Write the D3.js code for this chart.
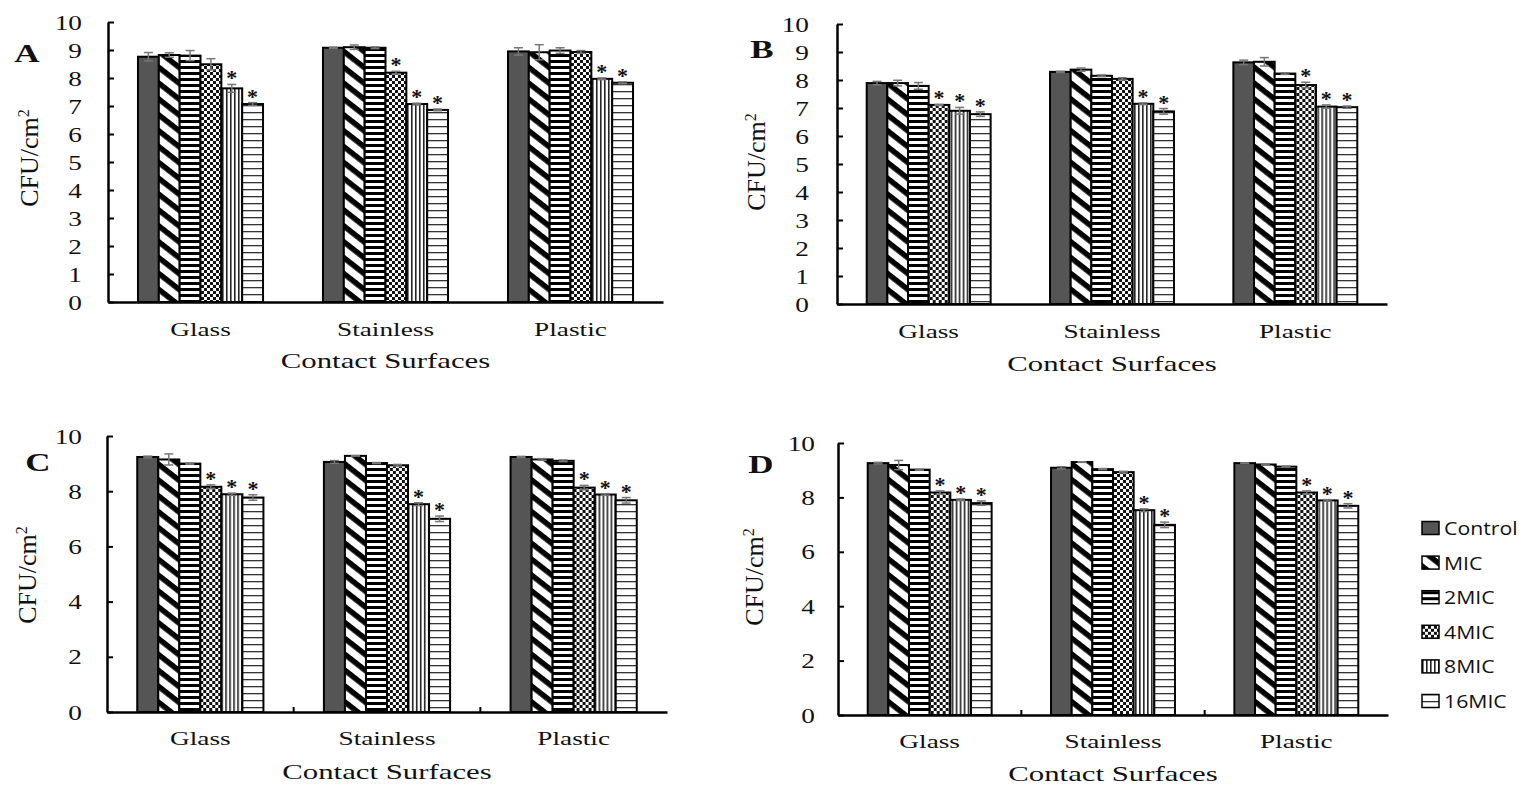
<!DOCTYPE html>
<html>
<head>
<meta charset="utf-8">
<script src="https://cdn.jsdelivr.net/npm/d3@7"></script>
<style>
  body { margin: 0; background: #fff; }
  svg text { font-family: "Liberation Serif", "Times New Roman", serif; fill: #111; }
</style>
</head>
<body>
<svg id="chart" width="1523" height="785"></svg>
<script>
const surfaces = ["Glass", "Stainless", "Plastic"];
const treatments = ["Control", "MIC", "2MIC", "4MIC", "8MIC", "16MIC"];

const ticksAB = [0, 1, 2, 3, 4, 5, 6, 7, 8, 9, 10];
const ticksCD = [0, 2, 4, 6, 8, 10];

// one row per surface, one value per treatment
const valuesA = [
    [8.76, 8.82, 8.80, 8.49, 7.63, 7.07],
    [9.08, 9.10, 9.08, 8.19, 7.07, 6.86],
    [8.95, 8.92, 8.98, 8.93, 7.97, 7.83]
];
const errorsA = [
    [0.15, 0.08, 0.18, 0.20, 0.14, 0.05],
    [0.02, 0.08, 0.03, 0.05, 0.03, 0.03],
    [0.13, 0.27, 0.10, 0.05, 0.03, 0.03]
];
const starsA = [[0, 0, 0, 0, 1, 1], [0, 0, 0, 1, 1, 1], [0, 0, 0, 0, 1, 1]];

const valuesB = [
    [7.89, 7.89, 7.79, 7.11, 6.90, 6.78],
    [8.29, 8.37, 8.15, 8.04, 7.15, 6.88],
    [8.63, 8.65, 8.23, 7.82, 7.05, 7.03]
];
const errorsB = [
    [0.06, 0.10, 0.12, 0.02, 0.12, 0.08],
    [0.02, 0.06, 0.03, 0.04, 0.03, 0.10],
    [0.08, 0.15, 0.03, 0.10, 0.06, 0.04]
];
const starsB = [[0, 0, 0, 1, 1, 1], [0, 0, 0, 0, 1, 1], [0, 0, 0, 1, 1, 1]];

const valuesC = [
    [9.24, 9.15, 9.00, 8.16, 7.89, 7.77],
    [9.06, 9.28, 9.02, 8.94, 7.53, 7.00],
    [9.24, 9.15, 9.10, 8.13, 7.88, 7.67]
];
const errorsC = [
    [0.03, 0.20, 0.02, 0.07, 0.04, 0.10],
    [0.05, 0.01, 0.02, 0.03, 0.05, 0.10],
    [0.02, 0.03, 0.03, 0.08, 0.03, 0.10]
];
const starsC = [[0, 0, 0, 1, 1, 1], [0, 0, 0, 0, 1, 1], [0, 0, 0, 1, 1, 1]];

const valuesD = [
    [9.26, 9.19, 9.02, 8.18, 7.91, 7.79],
    [9.09, 9.30, 9.04, 8.93, 7.53, 6.99],
    [9.26, 9.21, 9.13, 8.18, 7.89, 7.69]
];
const errorsD = [
    [0.03, 0.17, 0.02, 0.06, 0.03, 0.08],
    [0.04, 0.01, 0.02, 0.03, 0.05, 0.10],
    [0.01, 0.02, 0.02, 0.06, 0.03, 0.08]
];
const starsD = [[0, 0, 0, 1, 1, 1], [0, 0, 0, 0, 1, 1], [0, 0, 0, 1, 1, 1]];

const SX = 1.4; // the figure is stretched sideways

const svg = d3.select("#chart");
const defs = svg.append("defs");

// fill patterns
function addPattern(id, w, h, draw, rot) {
    const p = defs.append("pattern")
        .attr("id", id)
        .attr("patternUnits", "userSpaceOnUse")
        .attr("width", w)
        .attr("height", h);
    if (rot) p.attr("patternTransform", `rotate(${rot})`);
    p.append("rect").attr("width", w).attr("height", h).attr("fill", "#fff");
    draw(p);
}
addPattern("p-mic", 10, 12.5, p => p.append("rect").attr("width", 10).attr("height", 5.5).attr("fill", "#000"), 38);
addPattern("p-2mic", 6, 6, p => p.append("rect").attr("width", 6).attr("height", 3).attr("fill", "#000"));
addPattern("p-4mic", 6, 6, p => {
    p.append("rect").attr("width", 3).attr("height", 3).attr("fill", "#111");
    p.append("rect").attr("x", 3).attr("y", 3).attr("width", 3).attr("height", 3).attr("fill", "#111");
});
addPattern("p-8mic", 4, 4, p => p.append("rect").attr("width", 1.6).attr("height", 4).attr("fill", "#222"));
addPattern("p-16mic", 7, 7, p => p.append("rect").attr("y", 0).attr("width", 7).attr("height", 1.3).attr("fill", "#333"));

const fills = ["#555555", "url(#p-mic)", "url(#p-2mic)", "url(#p-4mic)", "url(#p-8mic)", "url(#p-16mic)"];

const panels = [
    { label: "A", values: valuesA, errors: errorsA, stars: starsA, ticks: ticksAB,
      left: 108, top: 22, bottom: 302, width: 555, gap: 26, xTicks: false,
      labelX: 27, labelY: 62, unitX: 38, unitY: 158, catY: 336, titleY: 368 },
    { label: "B", values: valuesB, errors: errorsB, stars: starsB, ticks: ticksAB,
      left: 837, top: 24, bottom: 304, width: 550, gap: 28, xTicks: false,
      labelX: 762, labelY: 58, unitX: 765, unitY: 162, catY: 338, titleY: 371 },
    { label: "C", values: valuesC, errors: errorsC, stars: starsC, ticks: ticksCD,
      left: 107, top: 436, bottom: 712, width: 560, gap: 25, xTicks: true,
      labelX: 38, labelY: 471, unitX: 36, unitY: 575, catY: 745, titleY: 779 },
    { label: "D", values: valuesD, errors: errorsD, stars: starsD, ticks: ticksCD,
      left: 838, top: 443, bottom: 715, width: 550, gap: 23, xTicks: true,
      labelX: 761, labelY: 473, unitX: 763, unitY: 577, catY: 748, titleY: 781 }
];

panels.forEach(cfg => {
    const g = svg.append("g");

    const yScale = d3.scaleLinear().domain([0, 10]).range([cfg.bottom, cfg.top]);
    const xScale = d3.scaleBand().domain(surfaces)
        .range([cfg.left, cfg.left + cfg.width])
        .paddingInner(0.324).paddingOuter(0.162);
    const xInner = d3.scaleBand().domain(treatments).range([0, xScale.bandwidth()]);

    // bars
    const groups = g.selectAll(".grp")
        .data(cfg.values)
        .enter()
        .append("g")
        .attr("transform", (d, i) => `translate(${xScale(surfaces[i])},0)`);

    groups.each(function (row, gi) {
        const grp = d3.select(this);
        const items = row.map((v, j) => ({ v, e: cfg.errors[gi][j], s: cfg.stars[gi][j], t: treatments[j], j }));

        grp.selectAll("rect")
            .data(items)
            .enter()
            .append("rect")
            .attr("x", d => xInner(d.t))
            .attr("y", d => yScale(d.v))
            .attr("width", xInner.bandwidth())
            .attr("height", d => cfg.bottom - yScale(d.v))
            .attr("fill", d => fills[d.j])
            .attr("stroke", "#000")
            .attr("stroke-width", 2);

        // error bars
        const eb = grp.selectAll(".err")
            .data(items)
            .enter()
            .append("g")
            .attr("stroke", "#777")
            .attr("stroke-width", 1.5);
        eb.append("line")
            .attr("x1", d => xInner(d.t) + xInner.bandwidth() / 2)
            .attr("x2", d => xInner(d.t) + xInner.bandwidth() / 2)
            .attr("y1", d => yScale(d.v - d.e))
            .attr("y2", d => yScale(d.v + d.e));
        eb.append("line")
            .attr("x1", d => xInner(d.t) + xInner.bandwidth() / 2 - 4.5)
            .attr("x2", d => xInner(d.t) + xInner.bandwidth() / 2 + 4.5)
            .attr("y1", d => yScale(d.v + d.e))
            .attr("y2", d => yScale(d.v + d.e));
        eb.append("line")
            .attr("x1", d => xInner(d.t) + xInner.bandwidth() / 2 - 4.5)
            .attr("x2", d => xInner(d.t) + xInner.bandwidth() / 2 + 4.5)
            .attr("y1", d => yScale(d.v - d.e))
            .attr("y2", d => yScale(d.v - d.e));

        // significance marks
        grp.selectAll(".star")
            .data(items.filter(d => d.s))
            .enter()
            .append("text")
            .attr("x", d => xInner(d.t) + xInner.bandwidth() / 2)
            .attr("y", d => yScale(d.v + d.e) + 1)
            .attr("text-anchor", "middle")
            .style("font-size", "22px")
            .style("font-weight", "bold")
            .text("*");
    });

    // y axis, ticks pointing inward
    const yAxis = g.append("g")
        .attr("transform", `translate(${cfg.left},0)`)
        .call(d3.axisLeft(yScale).tickValues(cfg.ticks).tickSizeInner(-6).tickSizeOuter(0).tickPadding(cfg.gap));
    yAxis.select(".domain").attr("stroke", "#000").attr("stroke-width", 2.5);
    yAxis.selectAll(".tick line").attr("stroke", "#000").attr("stroke-width", 2);
    yAxis.selectAll(".tick text")
        .attr("x", 0)
        .attr("dy", "0.34em")
        .attr("transform", `translate(${-cfg.gap},0) scale(1.3,1)`)
        .attr("fill", "#111")
        .style("font-family", "'Liberation Serif', serif")
        .style("font-size", "21px");

    // x axis line
    const xAxis = g.append("g")
        .attr("transform", `translate(0,${cfg.bottom})`)
        .call(d3.axisBottom(xScale).tickValues([]).tickSizeOuter(0));
    xAxis.select(".domain").attr("stroke", "#000").attr("stroke-width", 2.5);

    if (cfg.xTicks) {
        const step = xScale.step();
        g.selectAll(".xtick")
            .data([1, 2])
            .enter()
            .append("line")
            .attr("x1", d => cfg.left + d * step)
            .attr("x2", d => cfg.left + d * step)
            .attr("y1", cfg.bottom)
            .attr("y2", cfg.bottom - 5)
            .attr("stroke", "#000")
            .attr("stroke-width", 2);
    }

    // category labels
    g.selectAll(".cat")
        .data(surfaces)
        .enter()
        .append("text")
        .attr("transform", d => `translate(${xScale(d) + xScale.bandwidth() / 2},${cfg.catY}) scale(${SX},1)`)
        .attr("text-anchor", "middle")
        .style("font-size", "19.5px")
        .text(d => d);

    g.append("text")
        .attr("transform", `translate(${cfg.left + cfg.width / 2},${cfg.titleY}) scale(${SX},1)`)
        .attr("text-anchor", "middle")
        .style("font-size", "22px")
        .text("Contact  Surfaces");

    // y title
    const yt = g.append("text")
        .attr("transform", `translate(${cfg.unitX},${cfg.unitY}) rotate(-90)`)
        .attr("text-anchor", "middle")
        .style("font-size", "26px");
    yt.append("tspan").text("CFU/cm");
    yt.append("tspan").attr("dy", "-0.55em").style("font-size", "16px").text("2");

    // panel letter
    g.append("text")
        .attr("transform", `translate(${cfg.labelX},${cfg.labelY}) scale(${SX},1)`)
        .attr("text-anchor", "middle")
        .style("font-size", "25px")
        .style("font-weight", "bold")
        .text(cfg.label);
});

// legend
const legendY = d3.scalePoint().domain(treatments).range([528, 701]);
const legend = svg.append("g").selectAll("g")
    .data(treatments)
    .enter()
    .append("g")
    .attr("transform", d => `translate(1422,${legendY(d)})`);
legend.append("rect")
    .attr("x", 0)
    .attr("y", -6.5)
    .attr("width", 17)
    .attr("height", 13)
    .attr("fill", (d, i) => fills[i])
    .attr("stroke", "#000")
    .attr("stroke-width", 1.5);
legend.append("text")
    .attr("transform", "translate(22,7) scale(1.15,1)")
    .style("font-family", "'Open Sans', sans-serif")
    .style("font-size", "18.5px")
    .attr("fill", "#222")
    .text(d => d);
</script>
</body>
</html>
